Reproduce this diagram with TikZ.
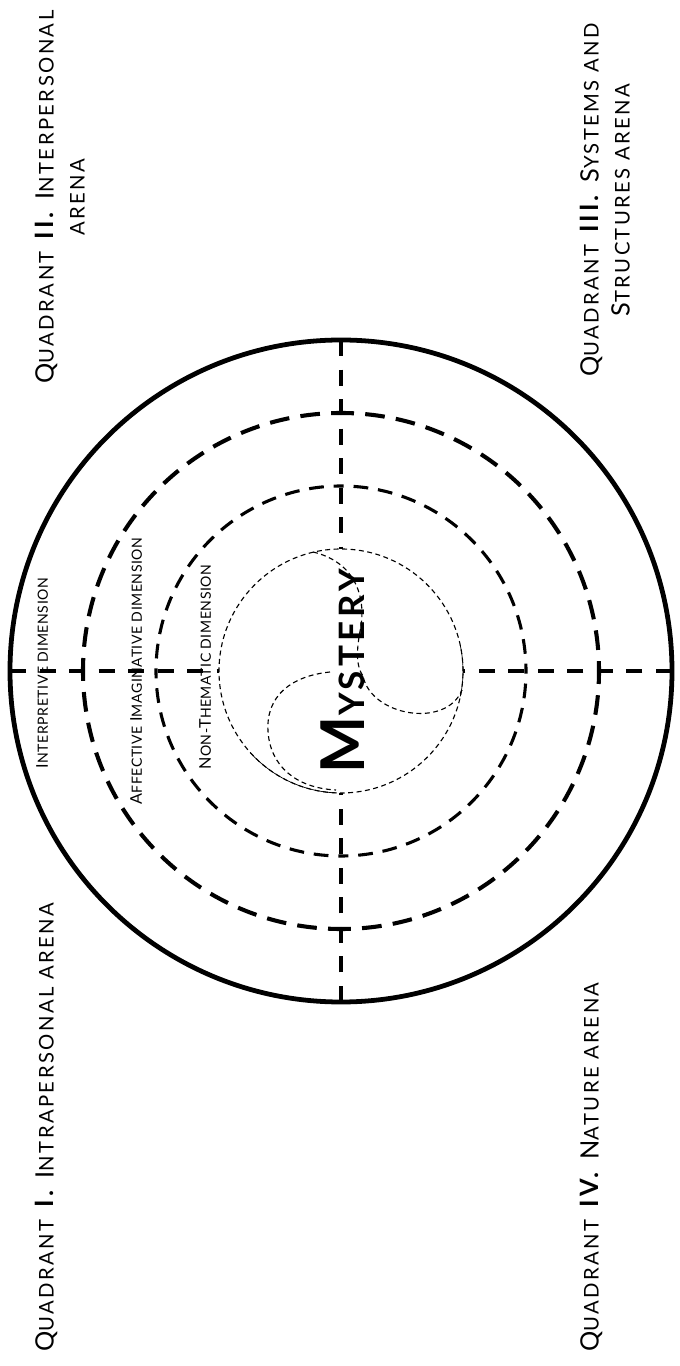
\documentclass[tikz,border=0pt]{standalone}
\usepackage{fontspec}
\usepackage{relsize}
\setmainfont{Lato}
\newfontfamily\arenafont[LetterSpace=12]{Lato}
\newfontfamily\dimfont[LetterSpace=4]{Lato}
\newfontfamily\mystfont[LetterSpace=12]{Lato}
\usetikzlibrary{positioning}

% small capitals by hand
\newcommand{\smc}[1]{\textscale{0.85}{#1}}

\begin{document}
\begin{tikzpicture}[x=0.025cm, y=0.025cm,
    outer/.style={line width=3.4pt},
    ringone/.style={line width=2.9pt, dash pattern=on 14pt off 8pt},
    ringtwo/.style={line width=2.2pt, dash pattern=on 10.5pt off 7pt},
    inner/.style={line width=0.8pt, dash pattern=on 3.5pt off 2.5pt},
    axisline/.style={line width=2.3pt, dash pattern=on 11.5pt off 9.5pt},
    arena/.style={rotate=90, inner sep=0pt, align=center, font=\arenafont\fontsize{18}{22}\selectfont},
    dimlabel/.style={rotate=90, inner sep=0pt, font=\dimfont\fontsize{11.5}{12}\selectfont}]

        % Define the radii of the circles
        \def\Rout{331}
        \def\Rone{258}
        \def\Rtwo{185}
        \def\Rin{122}

        \useasboundingbox (-341,-695) rectangle (338,671);
        \coordinate (c) at (0,0);

        % Draw the outer circle
        \draw[outer] (c) circle (\Rout);

        % Draw the dashed rings and the axes, a quarter at a time
        \foreach \a in {0,90,180,270}
        {
          \draw[ringone, dash phase=7pt] (\a:\Rone) arc[start angle=\a, delta angle=90, radius=\Rone];
          \draw[ringtwo, dash phase=5.25pt] (\a:\Rtwo) arc[start angle=\a, delta angle=90, radius=\Rtwo];
          \draw[axisline] (\a:\Rout) -- (\a:\Rin);
        }

        % Draw the inner circle and the two curves inside it
        \draw[inner] (c) circle (\Rin);
        \draw[line width=0.5pt] (-12:\Rin) arc[start angle=-12, end angle=12, radius=\Rin];
        \draw[line width=0.5pt] (222:\Rin) arc[start angle=222, end angle=268, radius=\Rin];
        \draw[inner] (-28,119) .. controls (10,110) and (25,80) .. (20,45)
          .. controls (15,20) and (15,5) .. (22,-5)
          .. controls (30,-45) and (105,-58) .. (121,-19);
        \draw[inner] (-11,-1) .. controls (-50,-5) and (-75,-25) .. (-73,-60)
          .. controls (-71,-95) and (-45,-117) .. (-5,-119);

        % Dimension labels along the axis
        \node[dimlabel, anchor=north] (interp) at (-305,-2) {I\smc{NTERPRETIVE DIMENSION}};
        \node[dimlabel, anchor=north] (affect) at (-211,0) {A\smc{FFECTIVE} I\smc{MAGINATIVE DIMENSION}};
        \node[dimlabel, anchor=north] (nonth) at (-142,4) {N\smc{ON-}T\smc{HEMATIC DIMENSION}};

        \node[rotate=90, inner sep=0pt, anchor=north, font=\mystfont\fontsize{43}{44}\selectfont\bfseries] (myst) at (-20,0) {M\smc{YSTERY}};

        % Quadrant labels
        \node[arena, anchor=north] (q2) at (-306,474) {Q\smc{UADRANT} \textbf{II.} I\smc{NTERPERSONAL}\\ \smc{ARENA}};
        \node[arena, anchor=north] (q3) at (239,471) {Q\smc{UADRANT} \textbf{III.} S\smc{YSTEMS AND}\\ S\smc{TRUCTURES ARENA}};
        \node[arena, anchor=north west] (q1) at (-306,-681) {Q\smc{UADRANT} \textbf{I.} I\smc{NTRAPERSONAL ARENA}};
        \node[arena, anchor=north west] (q4) at (239,-681) {Q\smc{UADRANT} \textbf{IV.} N\smc{ATURE ARENA}};
      \end{tikzpicture}
\end{document}
